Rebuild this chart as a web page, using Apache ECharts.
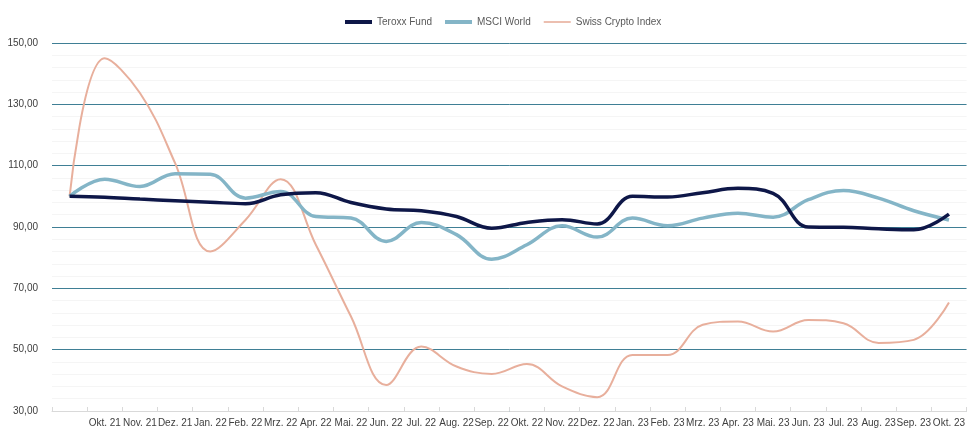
<!DOCTYPE html>
<html>
<head>
<meta charset="utf-8">
<script src="https://cdn.jsdelivr.net/npm/echarts@6/dist/echarts.min.js"></script>
<style>html,body{margin:0;padding:0;background:#fff;}#c{width:968px;height:428px;}</style>
</head>
<body>
<div id="c"></div>
<script>
const categories = ["", "Okt. 21","Nov. 21","Dez. 21","Jan. 22","Feb. 22","Mrz. 22","Apr. 22","Mai. 22","Jun. 22","Jul. 22","Aug. 22","Sep. 22","Okt. 22","Nov. 22","Dez. 22","Jan. 23","Feb. 23","Mrz. 23","Apr. 23","Mai. 23","Jun. 23","Jul. 23","Aug. 23","Sep. 23","Okt. 23"];
const teroxxFund = [100, 99.7, 99.1, 98.6, 98.1, 97.6, 100.5, 101.2, 98.0, 95.9, 95.3, 93.4, 89.6, 91.5, 92.4, 91.0, 100.0, 99.8, 101.2, 102.6, 101.0, 90.0, 89.9, 89.4, 89.1, 94.2];
const msciWorld = [100, 105.6, 103.2, 107.4, 107.2, 99.4, 101.6, 93.4, 92.9, 85.3, 91.5, 87.5, 79.5, 84.2, 90.4, 86.7, 92.9, 90.4, 92.9, 94.5, 93.2, 98.9, 101.9, 99.4, 95.3, 92.3];
const swissCrypto = [100, 145.0, 133.7, 110.8, 82.0, 92.3, 105.6, 84.2, 60.8, 38.5, 51.0, 44.5, 42.1, 45.3, 38.0, 34.5, 48.3, 48.3, 58.1, 59.2, 55.9, 59.7, 58.6, 52.2, 53.2, 65.4];
const yTicks = {min: 30, max: 150, interval: 20};

const chart = echarts.init(document.getElementById('c'), null, {renderer: 'canvas'});
const font = 'Liberation Sans';
const thinIcon = 'path://M0,0M0,4M0,1.2H27V2.8H0Z';
chart.setOption({
  animation: false,
  backgroundColor: '#ffffff',
  legend: {
    top: 12,
    left: 340,
    itemWidth: 27,
    itemHeight: 4,
    itemGap: 13,
    textStyle: {fontFamily: font, fontSize: 10, color: '#595959'},
    data: [
      {name: 'Teroxx Fund', icon: 'rect'},
      {name: 'MSCI World', icon: 'rect'},
      {name: 'Swiss Crypto Index', icon: thinIcon}
    ]
  },
  grid: {left: 52, width: 919, top: 43, bottom: 17, containLabel: false},
  xAxis: {
    type: 'category',
    data: categories,
    boundaryGap: true,
    axisLine: {lineStyle: {color: '#d9d9d9', width: 1}},
    axisTick: {show: true, inside: true, length: 4, lineStyle: {color: '#d9d9d9'}},
    axisLabel: {interval: 0, fontFamily: font, fontSize: 10, color: '#404040', margin: 7, hideOverlap: false},
    splitLine: {show: false}
  },
  yAxis: {
    type: 'value',
    min: yTicks.min, max: yTicks.max, interval: yTicks.interval,
    axisLine: {show: false},
    axisTick: {show: false},
    axisLabel: {fontFamily: font, fontSize: 10, color: '#404040', margin: 14,
      formatter: v => v.toFixed(2).replace('.', ',')},
    splitLine: {lineStyle: {color: '#3f7f95', width: 1}},
    minorTick: {show: false, splitNumber: 5},
    minorSplitLine: {show: true, lineStyle: {color: '#f5f5f5', width: 1}}
  },
  series: [
    {name: 'Swiss Crypto Index', type: 'line', data: swissCrypto, smooth: 0.4, symbol: 'none', z: 2,
      lineStyle: {color: '#e8af9c', width: 2}, itemStyle: {color: '#e8af9c'}},
    {name: 'MSCI World', type: 'line', data: msciWorld, smooth: 0.4, symbol: 'none', z: 3,
      lineStyle: {color: '#84b5c7', width: 3.5}, itemStyle: {color: '#84b5c7'}},
    {name: 'Teroxx Fund', type: 'line', data: teroxxFund, smooth: 0.4, symbol: 'none', z: 4,
      lineStyle: {color: '#0e1748', width: 3.5}, itemStyle: {color: '#0e1748'}}
  ]
});
</script>
</body>
</html>
